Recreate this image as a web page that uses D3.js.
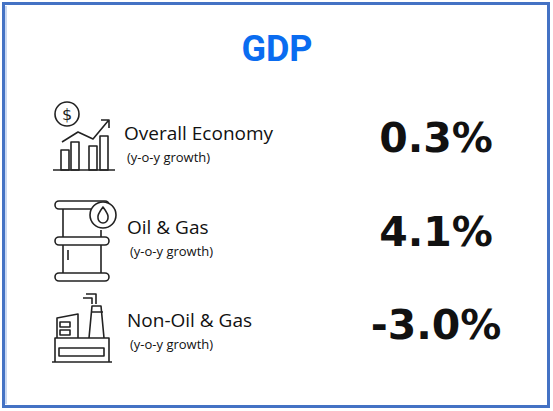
<!DOCTYPE html><html><head><meta charset="utf-8">
<script src="https://cdn.jsdelivr.net/npm/d3@7"></script>
<style>body{margin:0;background:#fff}</style></head><body>
<svg id="c" width="553" height="411"></svg>
<script>
const title = "GDP";
const categories = ["Overall Economy", "Oil & Gas", "Non-Oil & Gas"];
const subLabels = ["(y-o-y growth)", "(y-o-y growth)", "(y-o-y growth)"];
const values = [0.3, 4.1, -3.0];

const svg = d3.select("#c");
svg.append("rect").attr("x",3.5).attr("y",3.5).attr("width",545).attr("height",403)
  .attr("fill","#fff").attr("stroke","#4472c4").attr("stroke-width",3);
svg.append("line").attr("x1",6).attr("x2",6).attr("y1",6).attr("y2",404).attr("stroke","#c9d8f2").attr("stroke-width",2);
svg.append("text").attr("x",277).attr("y",61).attr("text-anchor","middle")
  .attr("font-family","Roboto, sans-serif").attr("font-weight",700).attr("font-size",36)
  .attr("fill","#0a6cf0").text(title);

const rows = [142, 236, 329];
const labelX = [124,127,127];
const fmt = d => (d<0?"-":"") + d3.format(".1f")(Math.abs(d)) + "%";
const g = svg.append("g").attr("font-family","'Open Sans', sans-serif").attr("fill","#111");
categories.forEach((c,i)=>{
  g.append("text").attr("x",labelX[i]).attr("y",rows[i]-2).attr("font-size",19).text(c);
  g.append("text").attr("x",labelX[i]+3).attr("y",rows[i]+20).attr("font-size",13).text(subLabels[i]);
  g.append("text").attr("x",436).attr("y",rows[i]+10).attr("text-anchor","middle")
    .attr("font-family","'DejaVu Sans', sans-serif").attr("font-weight",700).attr("font-size",41).text(fmt(values[i]));
});

const ic = svg.append("g").attr("fill","none").attr("stroke","#222").attr("stroke-width",1.6).attr("stroke-linejoin","round");
ic.append("circle").attr("cx",67).attr("cy",114).attr("r",12);
ic.append("text").attr("x",67).attr("y",120).attr("text-anchor","middle").attr("font-size",16).attr("fill","#222").attr("stroke","none").attr("font-family","DejaVu Sans").text("$");
[[60,150,8,20],[70,142,8,28],[88,146,8,24],[99,136,8,34]].forEach(([x,y0,w,h])=>ic.append("rect").attr("x",x+1).attr("y",y0).attr("width",w).attr("height",h));
ic.append("path").attr("d","M62 142 L78 132 L93 139 L108 121 M101 120 L109 120 L109 128");
ic.append("line").attr("x1",53).attr("x2",115).attr("y1",170).attr("y2",170);
ic.append("path").attr("d","M59 201 h46 M59 209 h46 M59 201 a4 4 0 0 0 0 8 M105 201 a4 4 0 0 1 0 8");
ic.append("path").attr("d","M59 237 h46 M59 245 h46 M59 237 a4 4 0 0 0 0 8 M105 237 a4 4 0 0 1 0 8");
ic.append("path").attr("d","M59 273 h46 M59 281 h46 M59 273 a4 4 0 0 0 0 8 M105 273 a4 4 0 0 1 0 8");
ic.append("path").attr("d","M63 209 v28 M63 245 v28 M101 230 v7 M101 245 v28 M68 250 v10");
ic.append("circle").attr("cx",103).attr("cy",215).attr("r",13).attr("fill","#fff");
ic.append("path").attr("d","M103 207 q-6 8 -5 11 a5 5 0 0 0 10 0 q1 -3 -5 -11 z");
ic.append("path").attr("d","M52 362 h60 M55 362 v-24 h54 v24 M59 356 h45 v-8 h-45 z");
ic.append("path").attr("d","M57 338 v-20 l21 -4 v24 M60 322 h10 v5 h-10 z M60 330 h10 v5 h-10 z");
ic.append("path").attr("d","M89 338 l3 -32 h9 l3 32 M91 312 h12");
ic.append("path").attr("d","M83 298 h9 v6 M86 294 h10 v10");
</script></body></html>
